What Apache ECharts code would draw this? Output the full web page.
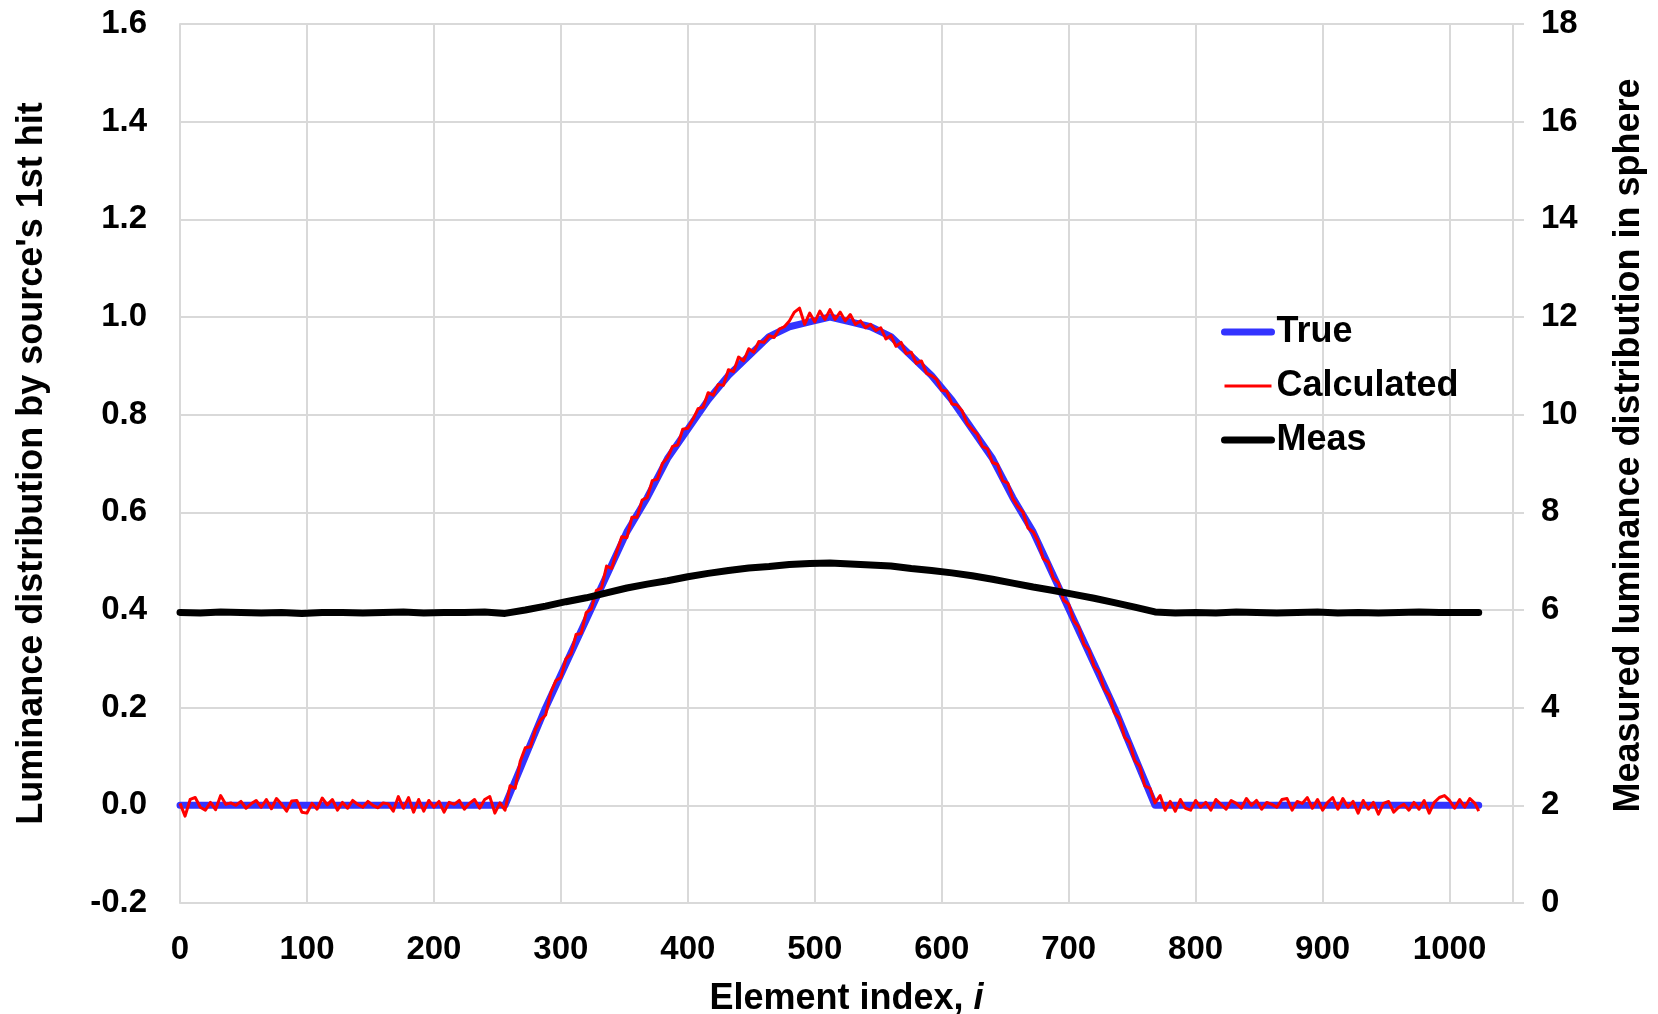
<!DOCTYPE html>
<html>
<head>
<meta charset="utf-8">
<script src="https://cdn.jsdelivr.net/npm/echarts@6/dist/echarts.min.js"></script>
<style>
  html, body { margin: 0; padding: 0; background: #fff; }
  #chart-box { width: 1658px; height: 1014px; }
</style>
</head>
<body>
<div id="chart-box"></div>
<script>
// x tick labels
const xTicks = [0, 100, 200, 300, 400, 500, 600, 700, 800, 900, 1000]

// True distribution (read at the corners and every 16 elements across the hump)
const trueX = [0, 256, 272, 288, 304, 320, 336, 352, 368, 384, 400, 416, 432, 448, 464, 480, 496,
  512, 528, 544, 560, 576, 592, 608, 624, 640, 656, 672, 688, 704, 720, 736, 752, 768, 1023]
const trueY = [0, 0, 0.10, 0.20, 0.29, 0.38, 0.47, 0.56, 0.63, 0.71, 0.77, 0.83, 0.88, 0.92, 0.96, 0.98, 0.99,
  1.00, 0.99, 0.98, 0.96, 0.92, 0.88, 0.83, 0.77, 0.71, 0.63, 0.56, 0.47, 0.38, 0.29, 0.20, 0.10, 0, 0]

// Calculated (every 4th element, 0..1020, then the last element 1023)
const calcStep = 4
const calcY = [
  0.004, -0.022, 0.012, 0.016, -0.004, -0.010, 0.006, -0.009, 0.020, 0.002, 0.005, 0.000, 0.008, -0.006, 0.003, 0.010,
  -0.004, 0.012, -0.007, 0.014, 0.002, -0.012, 0.009, 0.010, -0.014, -0.016, 0.004, -0.008, 0.015, 0.001, 0.012, -0.010,
  0.006, -0.006, 0.010, 0.002, -0.004, 0.008, 0.000, -0.005, 0.005, 0.003, -0.012, 0.018, -0.006, 0.016, -0.014, 0.012,
  -0.012, 0.010, -0.004, 0.008, -0.014, 0.006, 0.002, 0.010, -0.008, 0.004, 0.012, -0.006, 0.012, 0.018, -0.016, 0.005,
  -0.010, 0.040, 0.035, 0.090, 0.118, 0.120, 0.155, 0.175, 0.185, 0.230, 0.255, 0.262, 0.300, 0.310, 0.350, 0.352,
  0.395, 0.402, 0.440, 0.445, 0.490, 0.485, 0.520, 0.550, 0.548, 0.590, 0.590, 0.625, 0.630, 0.665, 0.668, 0.700,
  0.712, 0.735, 0.738, 0.770, 0.772, 0.790, 0.812, 0.815, 0.845, 0.840, 0.862, 0.860, 0.892, 0.888, 0.918, 0.910,
  0.935, 0.928, 0.950, 0.948, 0.962, 0.958, 0.975, 0.980, 0.992, 1.010, 1.018, 0.985, 1.008, 0.990, 1.012, 0.995,
  1.015, 0.995, 1.010, 0.992, 1.005, 0.985, 0.992, 0.978, 0.985, 0.972, 0.978, 0.955, 0.962, 0.940, 0.948, 0.925,
  0.928, 0.905, 0.910, 0.885, 0.880, 0.872, 0.850, 0.848, 0.822, 0.820, 0.808, 0.782, 0.770, 0.760, 0.735, 0.730,
  0.702, 0.698, 0.665, 0.660, 0.628, 0.612, 0.600, 0.568, 0.560, 0.540, 0.505, 0.498, 0.465, 0.455, 0.420, 0.412,
  0.378, 0.365, 0.330, 0.318, 0.285, 0.272, 0.238, 0.225, 0.190, 0.178, 0.140, 0.128, 0.092, 0.080, 0.040, 0.035,
  0.005, 0.020, -0.010, 0.008, -0.012, 0.012, -0.006, -0.010, 0.010, -0.004, 0.006, -0.010, 0.012, 0.002, -0.008, 0.010,
  0.004, -0.006, 0.014, 0.000, 0.010, -0.008, 0.006, 0.002, -0.004, 0.012, 0.014, -0.010, 0.008, 0.004, 0.016, -0.006,
  0.012, -0.010, 0.006, 0.016, -0.008, 0.014, -0.004, 0.008, -0.016, 0.010, -0.008, 0.006, -0.018, 0.004, 0.008, -0.014,
  -0.004, 0.002, -0.010, 0.006, -0.008, 0.010, -0.016, 0.006, 0.016, 0.020, 0.010, -0.006, 0.012, -0.004, 0.014, 0.004
]
const calcLast = [1023, -0.012]

// Measured (right axis, every 16th element, then the last element 1023)
const measStep = 16
const measY = [
  5.95, 5.94, 5.96, 5.95, 5.94, 5.95, 5.93, 5.95, 5.95, 5.94, 5.95, 5.96, 5.94, 5.95, 5.95, 5.96,
  5.93, 6.00, 6.08, 6.17, 6.25, 6.35, 6.45, 6.53, 6.60, 6.68, 6.75, 6.81, 6.86, 6.89, 6.93, 6.95,
  6.96, 6.94, 6.92, 6.90, 6.85, 6.81, 6.76, 6.70, 6.63, 6.55, 6.47, 6.40, 6.32, 6.24, 6.15, 6.06,
  5.96, 5.94, 5.95, 5.94, 5.96, 5.95, 5.94, 5.95, 5.96, 5.94, 5.95, 5.94, 5.95, 5.96, 5.95, 5.95
]
const measLast = [1023, 5.95]

const font = 'Arial, "Liberation Sans", sans-serif'
const gridColor = '#d9d9d9'

let trueData = trueX.map((x, i) => [x, trueY[i]])
let calcData = calcY.map((v, i) => [i * calcStep, v])
calcData.push(calcLast)
let measData = measY.map((v, i) => [i * measStep, v])
measData.push(measLast)

let chart = echarts.init(document.getElementById('chart-box'))
chart.setOption({
  animation: false,
  textStyle: { fontFamily: font },
  grid: { left: 180, right: 145, top: 24, bottom: 111, outerBoundsMode: 'none', containLabel: false },
  legend: {
    orient: 'vertical',
    left: 1221,
    top: 314,
    padding: 0,
    itemWidth: 47,
    itemHeight: 14,
    itemGap: 18,
    itemStyle: { opacity: 0 },
    textStyle: { fontFamily: font, fontSize: 36, fontWeight: 'bold', color: '#000' },
    data: [
      { name: 'True', lineStyle: { width: 7, cap: 'round' } },
      { name: 'Calculated', lineStyle: { width: 3 } },
      { name: 'Meas', lineStyle: { width: 7, cap: 'round' } }
    ]
  },
  xAxis: {
    type: 'value',
    min: 0,
    max: 1050,
    interval: 100,
    name: 'Element index, {it|i}',
    nameLocation: 'middle',
    nameGap: 78,
    nameTextStyle: {
      fontFamily: font, fontSize: 36, fontWeight: 'bold', color: '#000',
      rich: { it: { fontFamily: font, fontSize: 36, fontWeight: 'bold', fontStyle: 'italic', color: '#000' } }
    },
    axisLine: { show: true, lineStyle: { color: gridColor, width: 2 } },
    axisTick: { show: false },
    axisLabel: {
      margin: 30, fontSize: 33, fontWeight: 'bold', color: '#000',
      formatter: v => xTicks.includes(v) ? String(v) : ''
    },
    splitLine: { show: true, lineStyle: { color: gridColor, width: 2 } }
  },
  yAxis: [
    {
      type: 'value',
      min: -0.2,
      max: 1.6,
      interval: 0.2,
      name: "Luminance distribution by source's 1st hit",
      nameLocation: 'middle',
      nameGap: 130,
      nameTextStyle: { fontFamily: font, fontSize: 36, fontWeight: 'bold', color: '#000' },
      axisLine: { show: true, lineStyle: { color: gridColor, width: 2 } },
      axisTick: { show: false },
      axisLabel: {
        margin: 33, fontSize: 33, fontWeight: 'bold', color: '#000',
        formatter: v => v.toFixed(1)
      },
      splitLine: { show: true, lineStyle: { color: gridColor, width: 2 } }
    },
    {
      type: 'value',
      min: 0,
      max: 18,
      interval: 2,
      position: 'right',
      name: 'Measured luminance distribution in sphere',
      nameLocation: 'middle',
      nameGap: 98,
      nameRotate: 90,
      nameTextStyle: { fontFamily: font, fontSize: 36, fontWeight: 'bold', color: '#000', padding: [0, 0, 0, 36] },
      axisLine: { show: true, lineStyle: { color: gridColor, width: 2 } },
      axisTick: { show: true, inside: false, length: 11, lineStyle: { color: gridColor, width: 2 } },
      axisLabel: { margin: 28, fontSize: 33, fontWeight: 'bold', color: '#000' },
      splitLine: { show: false }
    }
  ],
  series: [
    {
      name: 'True',
      type: 'line',
      yAxisIndex: 0,
      showSymbol: false,
      symbol: 'none',
      lineStyle: { color: '#3333ff', width: 7, cap: 'round', join: 'round' },
      itemStyle: { color: '#3333ff' },
      data: trueData,
      z: 2
    },
    {
      name: 'Calculated',
      type: 'line',
      yAxisIndex: 0,
      showSymbol: false,
      symbol: 'none',
      lineStyle: { color: '#ff0000', width: 3, join: 'round' },
      itemStyle: { color: '#ff0000' },
      data: calcData,
      z: 3
    },
    {
      name: 'Meas',
      type: 'line',
      yAxisIndex: 1,
      showSymbol: false,
      symbol: 'none',
      lineStyle: { color: '#000000', width: 7, cap: 'round', join: 'round' },
      itemStyle: { color: '#000000' },
      data: measData,
      z: 4
    }
  ]
})
</script>
</body>
</html>
